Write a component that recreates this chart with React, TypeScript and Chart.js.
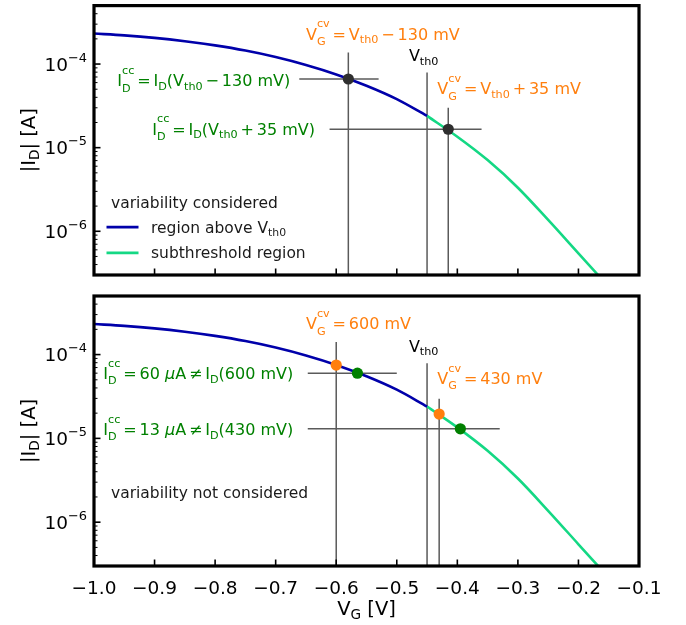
import React, { useEffect, useRef } from 'react';
import { Chart, registerables } from 'chart.js';
Chart.register(...registerables);

// ---------- data ----------
const X_MIN = -1.0;
const X_MAX = -0.1;
const Y_MIN = 3.0e-7;
const Y_MAX = 5.0e-4;
const xTicks = [-1.0, -0.9, -0.8, -0.7, -0.6, -0.5, -0.4, -0.3, -0.2, -0.1];
const yMajorTicks = [1e-6, 1e-5, 1e-4];
const yMajorExp = ['−6', '−5', '−4'];

// I_D(V_G) curve, region above V_th0
const aboveV = [-1.0, -0.95, -0.9, -0.85, -0.8, -0.75, -0.7, -0.65, -0.6, -0.55, -0.5, -0.45];
const aboveI = [2.317e-4, 2.203e-4, 2.056e-4, 1.875e-4, 1.671e-4, 1.449e-4, 1.213e-4, 9.75e-5, 7.52e-5, 5.51e-5, 3.81e-5, 2.4e-5];
// subthreshold region
const subV = [-0.45, -0.4, -0.35, -0.3, -0.25, -0.2, -0.15];
const subI = [2.4e-5, 1.352e-5, 7.1e-6, 3.32e-6, 1.368e-6, 5.45e-7, 2.17e-7];

const VTH0 = -0.45;

// top panel markers and guide lines
const ccPointV = [-0.58, -0.415];
const ccPointI = [6.62e-5, 1.66e-5];
const topVertX = [-0.58, VTH0, -0.415];
const topVertTop = [1.37e-4, 7.9e-5, 3.01e-5];
const topHorzY = [6.62e-5, 1.66e-5];
const topHorzFrom = [-0.661, -0.611];
const topHorzTo = [-0.53, -0.36];

// bottom panel markers and guide lines
const cvPointV = [-0.6, -0.43];
const cvPointI = [7.5e-5, 1.95e-5];
const ccFixedV = [-0.565, -0.395];
const ccFixedI = [6.0e-5, 1.3e-5];
const botVertX = [-0.6, VTH0, -0.43];
const botVertTop = [1.41e-4, 7.9e-5, 2.98e-5];
const botHorzY = [6.0e-5, 1.3e-5];
const botHorzFrom = [-0.647, -0.647];
const botHorzTo = [-0.5, -0.33];

// ---------- styles ----------
const FONT = "'DejaVu Sans', sans-serif";
const BLUE = '#0000aa';
const SPRING = '#14d884';
const ORANGE = '#ff7f0e';
const GREEN = '#008000';
const GUIDE = '#5a5a5a';
const DARK = '#2e2e2e';

type Seg = { t?: string; sub?: string; sup?: string; it?: boolean; g?: number };

function segWidth(ctx: CanvasRenderingContext2D, s: Seg, size: number) {
  if (s.g !== undefined) return s.g * size;
  if (s.t !== undefined) {
    ctx.font = `${s.it ? 'italic ' : ''}${size}px ${FONT}`;
    return ctx.measureText(s.t).width;
  }
  ctx.font = `${size * 0.7}px ${FONT}`;
  const a = s.sup ? ctx.measureText(s.sup).width : 0;
  const b = s.sub ? ctx.measureText(s.sub).width : 0;
  return Math.max(a, b);
}

function drawRich(ctx: CanvasRenderingContext2D, segs: Seg[], x: number, yMid: number, size: number, color: string, align: string, supRaise = 0.4) {
  const widths = segs.map((s) => segWidth(ctx, s, size));
  const total = widths.reduce((a, b) => a + b, 0);
  let cx = align === 'right' ? x - total : align === 'center' ? x - total / 2 : x;
  const base = yMid + 0.36 * size;
  ctx.fillStyle = color;
  ctx.textBaseline = 'alphabetic';
  ctx.textAlign = 'left';
  segs.forEach((s, i) => {
    if (s.g !== undefined) {
      // gap
    } else if (s.t !== undefined) {
      ctx.font = `${s.it ? 'italic ' : ''}${size}px ${FONT}`;
      ctx.fillText(s.t, cx, base);
    } else {
      ctx.font = `${size * 0.7}px ${FONT}`;
      const both = !!(s.sup && s.sub);
      if (s.sup) ctx.fillText(s.sup, cx, base - (both ? 0.78 : supRaise) * size);
      if (s.sub) ctx.fillText(s.sub, cx, base + (both ? 0.32 : 0.22) * size);
    }
    cx += widths[i];
  });
}

const EQ: Seg[] = [{ g: 0.18 }, { t: '=' }, { g: 0.18 }];
const MINUS: Seg[] = [{ g: 0.18 }, { t: '−' }, { g: 0.18 }];
const PLUS: Seg[] = [{ g: 0.18 }, { t: '+' }, { g: 0.18 }];
const NEQ: Seg[] = [{ g: 0.18 }, { t: '≠' }, { g: 0.18 }];
const ICC: Seg[] = [{ t: 'I' }, { sup: 'cc', sub: 'D' }];
const VCV: Seg[] = [{ t: 'V' }, { sup: 'cv', sub: 'G' }];
const VTH: Seg[] = [{ t: 'V' }, { sub: 'th0' }];
const ID: Seg[] = [{ t: 'I' }, { sub: 'D' }];

type Ann = { segs: Seg[]; x: number; y: number; align: string; color: string; size: number };

const topAnn: Ann[] = [
  { segs: [...VCV, ...EQ, ...VTH, ...MINUS, { t: '130 mV' }], x: -0.65, y: 2.3e-4, align: 'left', color: ORANGE, size: 16 },
  { segs: VTH, x: -0.48, y: 1.27e-4, align: 'left', color: '#000', size: 16 },
  { segs: [...VCV, ...EQ, ...VTH, ...PLUS, { t: '35 mV' }], x: -0.433, y: 5.07e-5, align: 'left', color: ORANGE, size: 16 },
  { segs: [...ICC, ...EQ, ...ID, { t: '(V' }, { sub: 'th0' }, ...MINUS, { t: '130 mV)' }], x: -0.676, y: 6.32e-5, align: 'right', color: GREEN, size: 16 },
  { segs: [...ICC, ...EQ, ...ID, { t: '(V' }, { sub: 'th0' }, ...PLUS, { t: '35 mV)' }], x: -0.635, y: 1.68e-5, align: 'right', color: GREEN, size: 16 },
];

const botAnn: Ann[] = [
  { segs: [...VCV, ...EQ, { t: '600 mV' }], x: -0.65, y: 2.34e-4, align: 'left', color: ORANGE, size: 16 },
  { segs: VTH, x: -0.48, y: 1.27e-4, align: 'left', color: '#000', size: 16 },
  { segs: [...VCV, ...EQ, { t: '430 mV' }], x: -0.433, y: 5.18e-5, align: 'left', color: ORANGE, size: 16 },
  { segs: [...ICC, ...EQ, { t: '60 ' }, { t: 'μ', it: true }, { t: 'A' }, ...NEQ, ...ID, { t: '(600 mV)' }], x: -0.671, y: 5.93e-5, align: 'right', color: GREEN, size: 16 },
  { segs: [...ICC, ...EQ, { t: '13 ' }, { t: 'μ', it: true }, { t: 'A' }, ...NEQ, ...ID, { t: '(430 mV)' }], x: -0.671, y: 1.28e-5, align: 'right', color: GREEN, size: 16 },
  { segs: [{ t: 'variability not considered' }], x: -0.972, y: 2.29e-6, align: 'left', color: '#1a1a1a', size: 15.5 },
];

function pts(xs: number[], ys: number[]) {
  return xs.map((v, i) => ({ x: v, y: ys[i] }));
}

function curveDatasets() {
  return [
    { label: 'region above Vth0', data: pts(aboveV, aboveI), borderColor: BLUE, borderWidth: 2.6, pointRadius: 0, cubicInterpolationMode: 'monotone', order: 2 },
    { label: 'subthreshold region', data: pts(subV, subI), borderColor: SPRING, borderWidth: 2.6, pointRadius: 0, cubicInterpolationMode: 'monotone', order: 2 },
  ];
}

function guideDatasets(vx: number[], vtop: number[], hy: number[], hf: number[], ht: number[]) {
  const out: any[] = [];
  vx.forEach((x, i) => out.push({ data: [{ x, y: vtop[i] }, { x, y: Y_MIN }], borderColor: GUIDE, borderWidth: 1.5, pointRadius: 0, order: 5 }));
  hy.forEach((y, i) => out.push({ data: [{ x: hf[i], y }, { x: ht[i], y }], borderColor: GUIDE, borderWidth: 1.5, pointRadius: 0, order: 5 }));
  return out;
}

function markerDataset(xs: number[], ys: number[], color: string) {
  return { data: pts(xs, ys), showLine: false, pointRadius: 5.6, pointBackgroundColor: color, pointBorderColor: color, pointBorderWidth: 0, borderColor: color, order: 0 };
}

function makePlugin(anns: Ann[], isBottom: boolean) {
  return {
    id: 'decor',
    afterDatasetsDraw(chart: any) {
      const ctx: CanvasRenderingContext2D = chart.ctx;
      const xs = chart.scales.x;
      const ys = chart.scales.y;
      const ca = chart.chartArea;
      ctx.save();
      anns.forEach((a) => {
        drawRich(ctx, a.segs, xs.getPixelForValue(a.x), ys.getPixelForValue(a.y), a.size, a.color, a.align);
      });
      if (!isBottom) {
        // legend
        drawRich(ctx, [{ t: 'variability considered' }], ca.left + 17, ca.top + 196.5, 15.5, '#1a1a1a', 'left');
        ctx.lineWidth = 2.6;
        ctx.strokeStyle = BLUE;
        ctx.beginPath();
        ctx.moveTo(ca.left + 12.5, ca.top + 221.5);
        ctx.lineTo(ca.left + 44.5, ca.top + 221.5);
        ctx.stroke();
        ctx.strokeStyle = SPRING;
        ctx.beginPath();
        ctx.moveTo(ca.left + 12.5, ca.top + 247.3);
        ctx.lineTo(ca.left + 44.5, ca.top + 247.3);
        ctx.stroke();
        drawRich(ctx, [{ t: 'region above V' }, { sub: 'th0' }], ca.left + 57, ca.top + 221.5, 15.5, '#1a1a1a', 'left');
        drawRich(ctx, [{ t: 'subthreshold region' }], ca.left + 57, ca.top + 247.3, 15.5, '#1a1a1a', 'left');
      }
      ctx.restore();
    },
    afterDraw(chart: any) {
      const ctx: CanvasRenderingContext2D = chart.ctx;
      const xs = chart.scales.x;
      const ys = chart.scales.y;
      const ca = chart.chartArea;
      ctx.save();
      ctx.strokeStyle = '#000';
      // x ticks (inward)
      ctx.lineWidth = 1.6;
      xTicks.forEach((v) => {
        const px = xs.getPixelForValue(v);
        ctx.beginPath();
        ctx.moveTo(px, ca.bottom);
        ctx.lineTo(px, ca.bottom - 6.5);
        ctx.stroke();
      });
      // y major ticks
      yMajorTicks.forEach((v) => {
        const py = ys.getPixelForValue(v);
        ctx.beginPath();
        ctx.moveTo(ca.left, py);
        ctx.lineTo(ca.left + 6.5, py);
        ctx.stroke();
      });
      // y minor ticks
      ctx.lineWidth = 1;
      for (let e = -7; e <= -4; e++) {
        for (let m = 2; m <= 9; m++) {
          const v = m * Math.pow(10, e);
          if (v <= Y_MIN || v >= Y_MAX) continue;
          const py = ys.getPixelForValue(v);
          ctx.beginPath();
          ctx.moveTo(ca.left, py);
          ctx.lineTo(ca.left + 3.5, py);
          ctx.stroke();
        }
      }
      // frame
      ctx.lineWidth = 3.2;
      ctx.strokeRect(ca.left, ca.top, ca.right - ca.left, ca.bottom - ca.top);
      // y tick labels
      yMajorTicks.forEach((v, i) => {
        drawRich(ctx, [{ t: '10' }, { sup: yMajorExp[i] }], ca.left - 7, ys.getPixelForValue(v), 18.5, '#000', 'right', 0.48);
      });
      // axis titles
      ctx.save();
      ctx.translate(27.5, (ca.top + ca.bottom) / 2);
      ctx.rotate(-Math.PI / 2);
      drawRich(ctx, [{ t: '|I' }, { sub: 'D' }, { t: '| [A]' }], 0, 0, 19.5, '#000', 'center');
      ctx.restore();
      if (isBottom) {
        drawRich(ctx, [{ t: 'V' }, { sub: 'G' }, { t: ' [V]' }], (ca.left + ca.right) / 2, ca.bottom + 42, 19.5, '#000', 'center');
      }
      ctx.restore();
    },
  };
}

function buildConfig(datasets: any[], anns: Ann[], isBottom: boolean) {
  const xScale: any = {
    type: 'linear',
    min: X_MIN,
    max: X_MAX,
    display: isBottom,
    afterBuildTicks: (s: any) => {
      s.ticks = xTicks.map((v) => ({ value: v }));
    },
    grid: { display: false },
    border: { display: false },
    ticks: {
      autoSkip: false,
      maxRotation: 0,
      padding: 4,
      color: '#000',
      font: { family: FONT, size: 18.5 },
      callback: (v: any) => Number(v).toFixed(1).replace('-', '−'),
    },
  };
  if (isBottom) {
    xScale.afterFit = (s: any) => {
      s.height = 59;
    };
  }
  return {
    type: 'line',
    data: { datasets },
    options: {
      animation: false,
      responsive: false,
      maintainAspectRatio: false,
      devicePixelRatio: 1,
      events: [],
      layout: { padding: isBottom ? { left: 0, right: 47, top: 11, bottom: 0 } : { left: 0, right: 47, top: 5, bottom: 10 } },
      plugins: { legend: { display: false }, tooltip: { enabled: false } },
      scales: {
        x: xScale,
        y: {
          type: 'logarithmic',
          min: Y_MIN,
          max: Y_MAX,
          afterBuildTicks: (s: any) => {
            s.ticks = yMajorTicks.map((v) => ({ value: v }));
          },
          afterFit: (s: any) => {
            s.width = 94;
          },
          grid: { display: false },
          border: { display: false },
          ticks: { display: false },
        },
      },
    },
    plugins: [makePlugin(anns, isBottom)],
  };
}

function Panel({ top, height, datasets, anns, isBottom }: any) {
  const ref = useRef<HTMLCanvasElement>(null);
  useEffect(() => {
    if (!ref.current) return;
    const chart = new Chart(ref.current, buildConfig(datasets, anns, isBottom) as any);
    return () => chart.destroy();
  }, []);
  return (
    <canvas
      ref={ref}
      width={686}
      height={height}
      style={{ position: 'absolute', left: 0, top, width: 686, height, display: 'block' }}
    />
  );
}

export default function App() {
  const topSets = [
    ...guideDatasets(topVertX, topVertTop, topHorzY, topHorzFrom, topHorzTo),
    ...curveDatasets(),
    markerDataset(ccPointV, ccPointI, DARK),
  ];
  const botSets = [
    ...guideDatasets(botVertX, botVertTop, botHorzY, botHorzFrom, botHorzTo),
    ...curveDatasets(),
    markerDataset(cvPointV, cvPointI, ORANGE),
    markerDataset(ccFixedV, ccFixedI, GREEN),
  ];
  return (
    <div style={{ position: 'absolute', left: 0, top: 0, width: 686, height: 625, background: '#fff' }}>
      <Panel top={0} height={285} datasets={topSets} anns={topAnn} isBottom={false} />
      <Panel top={285} height={340} datasets={botSets} anns={botAnn} isBottom={true} />
    </div>
  );
}
